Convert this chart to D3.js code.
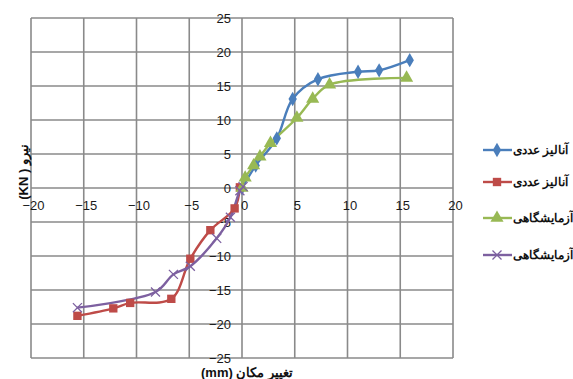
<!DOCTYPE html>
<html><head><meta charset="utf-8">
<script src="https://cdn.jsdelivr.net/npm/d3@7"></script>
<style>body{margin:0;background:#fff}svg{display:block}</style>
</head><body>
<svg id="c" width="573" height="379"></svg>
<script>
const seriesNames = ["آنالیز عددی","آنالیز عددی","آزمایشگاهی","آزمایشگاهی"];
const seriesColors = ["#4A7EBB","#BE4B48","#98B954","#7D60A0"];
const blueX = [0, 1.3, 3.3, 4.8, 7.2, 11.0, 13.0, 15.9];
const blueY = [0, 3.3, 7.3, 13.1, 16.0, 17.1, 17.3, 18.8];
const redX = [-0.2, -0.7, -3.0, -4.9, -6.7, -10.6, -12.2, -15.6];
const redY = [0.1, -3.0, -6.2, -10.4, -16.3, -16.9, -17.7, -18.8];
const greenX = [0, 0.3, 1.1, 1.7, 2.7, 5.2, 6.7, 8.3, 15.6];
const greenY = [0, 1.5, 3.3, 4.6, 6.6, 10.3, 13.1, 15.2, 16.2];
const purpleX = [0.1, -0.2, -1.1, -2.4, -4.9, -6.5, -8.2, -15.6];
const purpleY = [0.2, -0.4, -4.3, -7.4, -11.5, -12.7, -15.3, -17.6];
const xTicks = [-20,-15,-10,-5,0,5,10,15,20];
const yTicks = [-25,-20,-15,-10,-5,0,5,10,15,20,25];
const xTitle = "تغییر مکان (mm)";
const yTitle = "نیرو ( KN)";

const svg = d3.select("#c");
const x = d3.scaleLinear().domain([-20,20]).range([31,453]);
const y = d3.scaleLinear().domain([-25,25]).range([358,18]);
const font = "'Liberation Sans', Arial, sans-serif";
const grid = "#8a8a8a";

const g = svg.append("g");
g.selectAll("line.v").data(xTicks).join("line")
  .attr("x1",d=>x(d)).attr("x2",d=>x(d)).attr("y1",y(25)).attr("y2",y(-25))
  .attr("stroke",grid).attr("stroke-width",1.6);
g.selectAll("line.h").data(yTicks).join("line")
  .attr("y1",d=>y(d)).attr("y2",d=>y(d)).attr("x1",x(-20)).attr("x2",x(20))
  .attr("stroke",grid).attr("stroke-width",1.6);

const xAxis = svg.append("g").attr("transform",`translate(2,${y(0)})`)
  .call(d3.axisBottom(x).tickValues(xTicks).tickSize(0).tickPadding(13));
const yAxis = svg.append("g").attr("transform",`translate(${x(0)-10},0)`)
  .call(d3.axisLeft(y).tickValues(yTicks).tickSize(0).tickPadding(1));
[xAxis,yAxis].forEach(a=>{
  a.select(".domain").remove();
  a.selectAll("text").attr("font-family",font).attr("font-size",13).attr("fill","#1a1a1a");
});

const line = d3.line().x(d=>x(d[0])).y(d=>y(d[1])).curve(d3.curveCatmullRom.alpha(0.5));
const sets = [
  blueX.map((v,i)=>[v,blueY[i]]),
  redX.map((v,i)=>[v,redY[i]]),
  greenX.map((v,i)=>[v,greenY[i]]),
  purpleX.map((v,i)=>[v,purpleY[i]])
];
const symbols = [d3.symbolDiamond, d3.symbolSquare, d3.symbolTriangle, d3.symbolTimes];
const sizes = [60, 70, 75, 55];

function drawMarker(sel, k, cx, cy){
  const p = sel.append("path").attr("d", d3.symbol().type(symbols[k]).size(sizes[k])())
    .attr("transform",`translate(${cx},${cy})`);
  if(k===3) p.attr("fill","none").attr("stroke",seriesColors[k]).attr("stroke-width",1.3);
  else p.attr("fill",seriesColors[k]);
}

sets.forEach((pts,k)=>{
  svg.append("path").attr("d",line(pts)).attr("fill","none")
    .attr("stroke",seriesColors[k]).attr("stroke-width",2.4);
});
sets.forEach((pts,k)=>{
  const gg = svg.append("g");
  pts.forEach(p=>drawMarker(gg,k,x(p[0]),y(p[1])));
});

svg.append("text").attr("x",247).attr("y",377).attr("text-anchor","middle")
  .attr("direction","rtl").attr("font-family",font).attr("font-size",13).attr("font-weight","bold")
  .attr("fill","#111").text(xTitle);
svg.append("text").attr("transform","translate(28,172) rotate(-90)").attr("text-anchor","middle")
  .attr("direction","rtl").attr("font-family",font).attr("font-size",13).attr("font-weight","bold")
  .attr("fill","#111").text(yTitle);

const legY = [150,182,218,255];
seriesNames.forEach((n,k)=>{
  svg.append("line").attr("x1",483).attr("x2",512).attr("y1",legY[k]).attr("y2",legY[k])
    .attr("stroke",seriesColors[k]).attr("stroke-width",2.4);
  drawMarker(svg,k,497,legY[k]);
  svg.append("text").attr("x",513).attr("y",legY[k]+4).attr("text-anchor","start")
    .attr("font-family",font).attr("font-size",12).attr("font-weight","bold").attr("fill","#111").text(n);
});
</script>
</body></html>
